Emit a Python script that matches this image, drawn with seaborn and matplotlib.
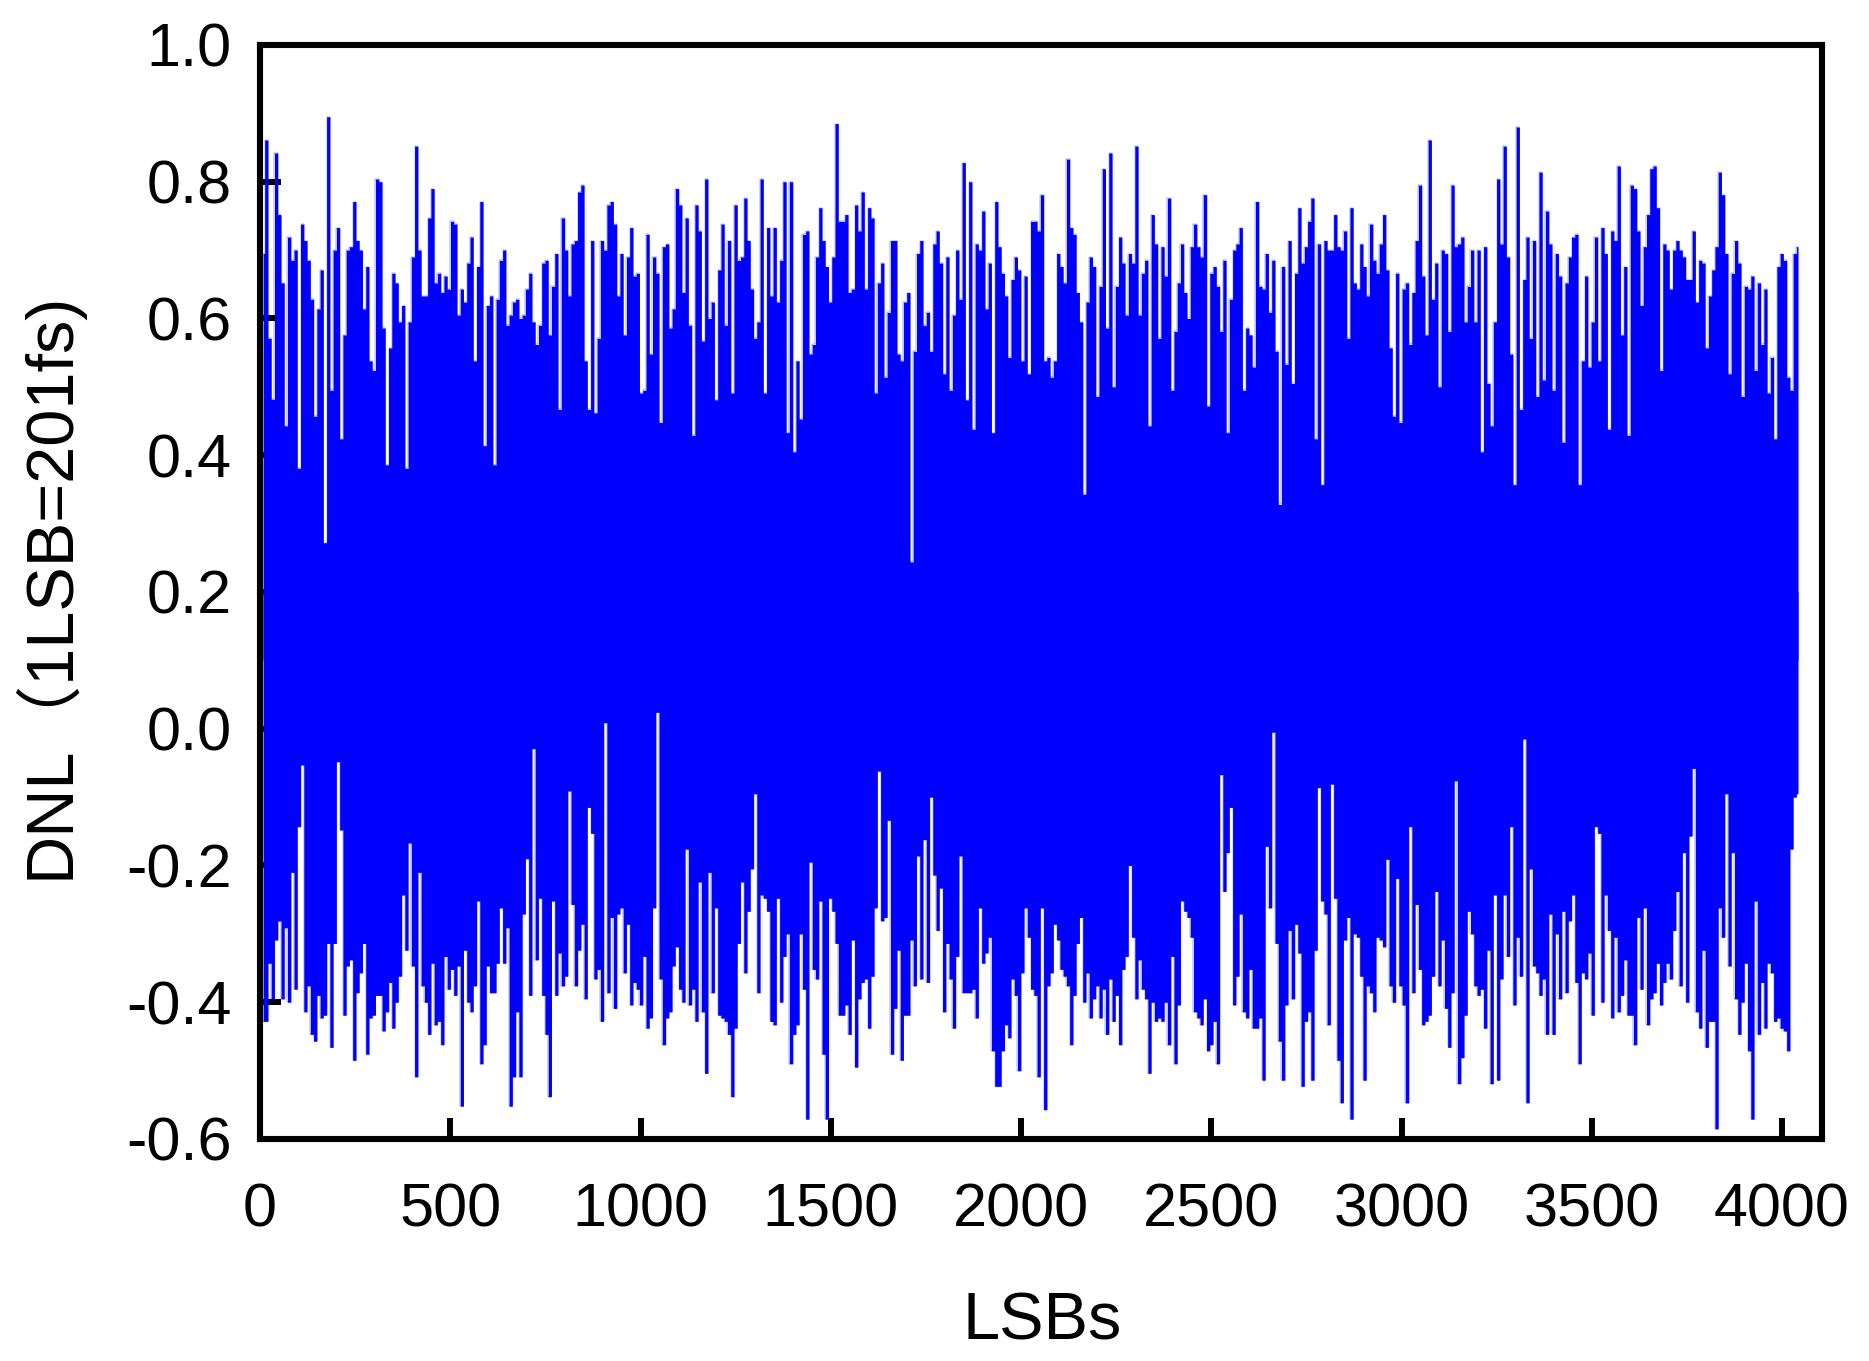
import numpy as np
import matplotlib
matplotlib.use("Agg")
import matplotlib.pyplot as plt
import seaborn as sns

# Upper and lower envelope of the DNL trace, one reading per plotted column
dnl_top = [
0.695,0.861,0.571,0.482,0.842,0.752,0.652,0.443,0.719,0.685,0.700,0.381,0.738,0.714,0.685,0.628,0.457,0.614,0.671,0.272,
0.895,0.495,0.700,0.733,0.424,0.576,0.700,0.705,0.771,0.714,0.700,0.614,0.676,0.538,0.524,0.804,0.800,0.586,0.386,0.557,
0.666,0.652,0.595,0.619,0.381,0.595,0.690,0.852,0.700,0.633,0.633,0.747,0.790,0.652,0.666,0.638,0.662,0.643,0.742,0.738,
0.605,0.643,0.624,0.681,0.719,0.538,0.676,0.771,0.414,0.619,0.633,0.386,0.628,0.685,0.700,0.590,0.605,0.624,0.628,0.600,
0.605,0.643,0.666,0.595,0.562,0.590,0.681,0.685,0.576,0.647,0.695,0.467,0.747,0.700,0.633,0.709,0.714,0.785,0.795,0.538,
0.467,0.714,0.462,0.571,0.714,0.700,0.766,0.771,0.738,0.633,0.695,0.576,0.690,0.733,0.662,0.666,0.491,0.495,0.723,0.548,
0.690,0.666,0.448,0.705,0.709,0.586,0.614,0.790,0.766,0.638,0.747,0.590,0.429,0.766,0.728,0.567,0.804,0.600,0.624,0.481,
0.671,0.738,0.590,0.714,0.491,0.766,0.685,0.690,0.776,0.714,0.643,0.571,0.595,0.804,0.491,0.733,0.633,0.733,0.624,0.685,
0.800,0.433,0.800,0.405,0.538,
0.453,0.723,0.728,0.548,0.562,0.690,0.762,0.714,0.676,0.624,0.690,0.885,0.742,0.742,0.752,0.638,0.643,0.766,0.728,0.785,
0.643,0.762,0.747,0.491,0.652,0.681,0.514,0.609,0.714,0.714,0.548,0.538,0.624,0.638,0.244,0.552,0.695,0.714,0.590,0.609,
0.552,0.709,0.728,0.681,0.519,0.690,0.495,0.605,0.700,0.628,0.828,0.481,0.800,0.438,0.709,0.700,0.757,0.614,0.681,0.433,
0.771,0.705,0.666,0.633,0.543,0.657,0.690,0.671,0.538,0.662,0.519,0.742,0.742,0.728,0.781,0.538,0.543,0.514,0.538,0.695,
0.676,0.652,0.833,0.733,0.723,0.638,0.595,0.343,0.624,0.690,0.676,0.486,0.647,0.819,0.586,0.842,0.500,0.647,0.719,0.681,
0.605,0.695,0.681,0.852,0.605,0.666,0.685,0.443,0.752,0.709,0.571,0.705,0.662,0.776,0.495,0.581,0.652,0.709,0.638,0.600,
0.705,0.738,0.705,0.690,0.781,0.472,0.666,0.676,0.647,0.581,0.685,0.433,0.628,0.700,0.709,0.733,0.495,0.586,0.576,0.529,
0.771,0.647,0.643,0.695,0.609,0.685,0.552,0.328,0.676,0.533,0.714,0.505,0.666,0.762,0.681,0.705,0.742,0.776,0.424,0.709,
0.357,0.714,0.700,0.700,0.752,0.705,0.700,0.728,0.571,0.762,0.652,0.643,
0.709,0.676,0.633,0.738,0.685,0.666,0.709,0.752,0.671,0.557,0.457,0.666,0.448,0.643,0.652,0.562,0.638,0.714,0.795,0.662,
0.576,0.861,0.628,0.681,0.500,0.700,0.695,0.581,0.795,0.705,0.709,0.719,0.595,0.647,0.700,0.595,0.700,0.405,0.705,0.505,
0.443,0.595,0.804,0.709,0.852,0.690,0.548,0.357,0.880,0.467,0.657,0.719,0.571,0.714,0.486,0.814,0.510,0.757,0.709,0.495,
0.695,0.662,0.419,0.652,0.690,0.719,0.723,0.357,0.538,0.662,0.529,0.595,0.719,0.538,0.733,0.695,0.438,0.728,0.714,0.823,
0.576,0.676,0.429,0.795,0.790,0.728,0.619,0.705,0.752,0.819,0.823,0.762,0.524,0.709,0.700,0.643,0.700,0.714,0.700,0.690,
0.657,0.657,0.728,0.624,0.685,0.681,0.557,0.633,0.671,0.705,0.814,0.781,0.695,0.519,0.666,0.714,0.681,0.486,0.647,0.643,
0.662,0.524,0.652,0.562,0.643,0.491,0.543,0.424,0.676,0.695,0.685,0.514,0.495,0.695,0.705,
]
dnl_bottom = [
-0.428,-0.428,-0.343,-0.395,-0.309,-0.281,-0.395,-0.291,-0.400,-0.210,-0.381,-0.143,-0.053,-0.414,-0.376,-0.447,-0.457,-0.390,-0.423,-0.419,
-0.314,-0.466,-0.314,-0.048,-0.148,-0.419,-0.347,-0.338,-0.485,-0.386,-0.357,-0.314,-0.476,-0.423,-0.419,-0.390,-0.390,-0.442,-0.414,-0.371,
-0.438,-0.400,-0.362,-0.243,-0.324,-0.167,-0.347,-0.509,-0.210,-0.376,-0.400,-0.447,-0.343,-0.433,-0.428,-0.462,-0.333,-0.381,-0.352,-0.390,
-0.347,-0.552,-0.324,-0.400,-0.414,-0.376,-0.252,-0.490,-0.462,-0.347,-0.386,-0.386,-0.343,-0.262,-0.343,-0.291,-0.552,-0.509,-0.414,-0.509,
-0.271,-0.190,-0.390,-0.029,-0.338,-0.248,-0.390,-0.447,-0.538,-0.252,-0.390,-0.328,-0.376,-0.362,-0.091,-0.257,-0.376,-0.324,-0.286,-0.395,
-0.115,-0.153,-0.366,-0.352,-0.428,0.009,-0.386,-0.276,-0.409,-0.271,-0.262,-0.357,-0.286,-0.404,-0.371,-0.381,-0.404,-0.333,-0.438,-0.423,
-0.262,0.024,-0.366,-0.462,-0.423,-0.414,-0.347,-0.319,-0.381,-0.400,-0.176,-0.404,-0.381,-0.428,-0.224,-0.414,-0.504,-0.210,-0.386,-0.262,
-0.419,-0.423,-0.428,-0.447,-0.538,-0.438,-0.314,-0.224,-0.357,-0.267,-0.205,-0.095,-0.386,-0.243,-0.248,-0.267,-0.428,-0.433,-0.248,-0.400,
-0.333,-0.300,-0.490,-0.447,-0.433,
-0.300,-0.381,-0.571,-0.195,-0.352,-0.366,-0.252,-0.476,-0.571,-0.248,-0.267,-0.314,-0.419,-0.419,-0.404,-0.447,-0.309,-0.495,-0.395,-0.371,
-0.366,-0.438,-0.362,-0.262,-0.062,-0.281,-0.276,-0.134,-0.476,-0.409,-0.324,-0.485,-0.419,-0.419,-0.309,-0.376,-0.186,-0.366,-0.162,-0.371,
-0.100,-0.214,-0.295,-0.233,-0.414,-0.314,-0.366,-0.438,-0.333,-0.186,-0.386,-0.386,-0.386,-0.381,-0.423,-0.262,-0.343,-0.328,-0.305,-0.471,
-0.523,-0.523,-0.471,-0.433,-0.452,-0.366,-0.390,-0.500,-0.357,-0.262,-0.305,-0.381,-0.390,-0.509,-0.262,-0.557,-0.376,-0.357,-0.286,-0.309,
-0.352,-0.362,-0.376,-0.462,-0.390,-0.314,-0.276,-0.400,-0.357,-0.423,-0.395,-0.376,-0.423,-0.381,-0.447,-0.366,-0.428,-0.390,-0.462,-0.352,
-0.333,-0.200,-0.305,-0.395,-0.338,-0.381,-0.395,-0.504,-0.400,-0.428,-0.423,-0.428,-0.400,-0.462,-0.333,-0.490,-0.404,-0.252,-0.267,-0.276,
-0.305,-0.414,-0.423,-0.433,-0.395,-0.471,-0.462,-0.428,-0.490,-0.067,-0.238,-0.181,-0.115,-0.404,-0.362,-0.271,-0.414,-0.423,-0.352,-0.438,
-0.438,-0.423,-0.514,-0.172,-0.262,-0.005,-0.314,-0.457,-0.514,-0.404,-0.295,-0.395,-0.286,-0.328,-0.523,-0.428,-0.414,-0.514,-0.324,-0.086,
-0.252,-0.271,-0.433,-0.081,-0.248,-0.485,-0.547,-0.309,-0.276,-0.571,-0.300,-0.305,
-0.362,-0.514,-0.376,-0.386,-0.414,-0.305,-0.309,-0.319,-0.191,-0.376,-0.400,-0.219,-0.376,-0.404,-0.547,-0.143,-0.386,-0.257,-0.352,-0.433,
-0.428,-0.419,-0.362,-0.238,-0.376,-0.309,-0.409,-0.466,-0.386,-0.076,-0.519,-0.481,-0.419,-0.267,-0.300,-0.376,-0.390,-0.381,-0.438,-0.324,
-0.519,-0.243,-0.514,-0.366,-0.243,-0.333,-0.143,-0.404,-0.305,-0.362,-0.015,-0.547,-0.205,-0.347,-0.357,-0.390,-0.366,-0.447,-0.271,-0.447,
-0.300,-0.395,-0.267,-0.386,-0.281,-0.243,-0.371,-0.490,-0.357,-0.366,-0.328,-0.419,-0.143,-0.153,-0.400,-0.243,-0.295,-0.423,-0.305,-0.414,
-0.390,-0.338,-0.419,-0.419,-0.462,-0.276,-0.381,-0.262,-0.433,-0.395,-0.386,-0.343,-0.404,-0.371,-0.343,-0.366,-0.295,-0.238,-0.376,-0.181,
-0.400,-0.157,-0.058,-0.414,-0.438,-0.324,-0.466,-0.428,-0.428,-0.585,-0.262,-0.305,-0.095,-0.347,-0.181,-0.395,-0.447,-0.400,-0.343,-0.471,
-0.571,-0.252,-0.447,-0.371,-0.438,-0.343,-0.357,-0.428,-0.423,-0.438,-0.442,-0.471,-0.176,-0.100,-0.095,
]
x_ticks = [0, 500, 1000, 1500, 2000, 2500, 3000, 3500, 4000]
y_ticks = [-0.6, -0.4, -0.2, 0.0, 0.2, 0.4, 0.6, 0.8, 1.0]
first_lsb = 8
last_lsb = 4042
fill_lower_to = 0.2
fill_upper_from = 0.1

sns.set_theme(style="ticks")
plt.rcParams["font.family"] = ["Liberation Sans", "Noto Sans CJK SC", "DejaVu Sans"]

W, H = 1869, 1361
fig = plt.figure(figsize=(W / 100, H / 100), dpi=100, facecolor="white")
ax = fig.add_axes([260 / W, 1 - 1139 / H, (1822 - 260) / W, (1139 - 45) / H])

blue = "#0000FF"
x_top = np.linspace(first_lsb, last_lsb, len(dnl_top))
x_bot = np.linspace(first_lsb, last_lsb, len(dnl_bottom))
ax.fill_between(x_top, fill_upper_from, dnl_top, step="mid", color=blue, lw=0, zorder=3)
ax.fill_between(x_bot, dnl_bottom, fill_lower_to, step="mid", color=blue, lw=0, zorder=3)
sns.lineplot(x=x_top, y=dnl_top, ax=ax, color=blue, lw=0.25, drawstyle="steps-mid",
             estimator=None, errorbar=None, zorder=3)
sns.lineplot(x=x_bot, y=dnl_bottom, ax=ax, color=blue, lw=0.25, drawstyle="steps-mid",
             estimator=None, errorbar=None, zorder=3)

ax.set_xlim(0, 4105)
ax.set_ylim(-0.6, 1.0)
ax.set_xticks(x_ticks)
ax.set_yticks(y_ticks)
ax.set_yticklabels([f"{v:.1f}" for v in y_ticks])
ax.set_axisbelow(True)
ax.tick_params(axis="x", direction="in", length=15, width=4.3, color="black",
               labelsize=44, pad=31, labelcolor="black")
ax.tick_params(axis="y", direction="in", length=15, width=4.3, color="black",
               labelsize=44, pad=20.5, labelcolor="black")
for s in ax.spines.values():
    s.set_linewidth(4.4)
    s.set_color("black")
    s.set_zorder(5)

ax.set_xlabel("LSBs", fontsize=48, color="black")
ax.xaxis.set_label_coords((1042 - 260) / (1822 - 260), -(1291 - 1139) / (1139 - 45))
ax.set_ylabel("DNL（1LSB=201fs)", fontsize=48, color="black")
ax.yaxis.set_label_coords((82 - 260) / (1822 - 260), (1139 - 585) / (1139 - 45))

fig.savefig("out.png", dpi=100, facecolor="white")
